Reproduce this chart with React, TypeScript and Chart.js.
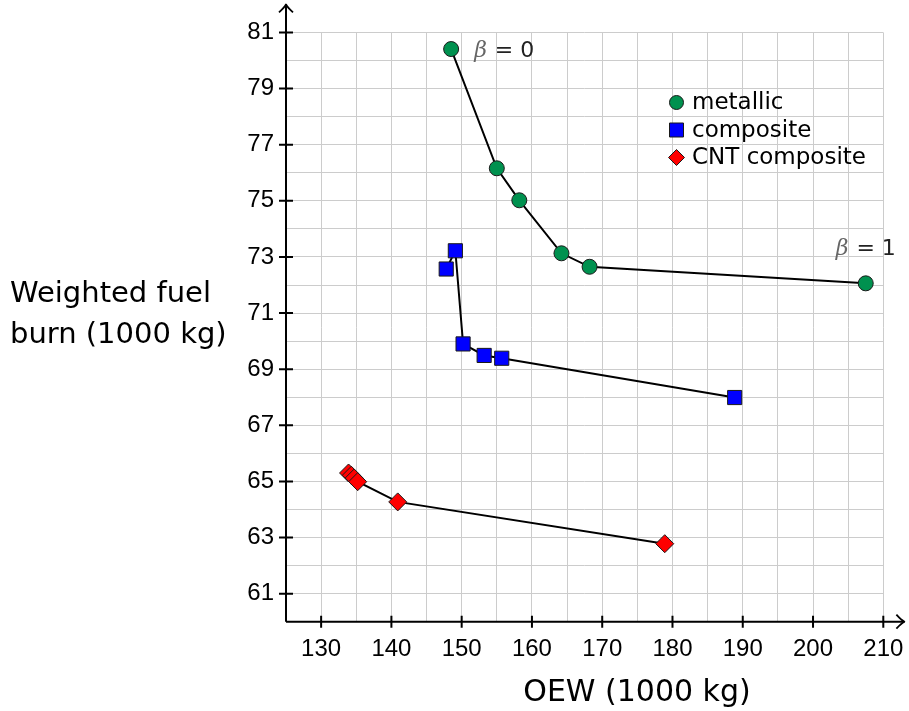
import React, { useEffect, useRef } from "react";
import { Chart, registerables } from "chart.js";

Chart.register(...registerables);

// ---- data ----
const metallicX = [148.5, 155.0, 158.2, 164.2, 168.2, 207.5];
const metallicY = [80.41, 76.16, 75.02, 73.13, 72.65, 72.06];
const compositeX = [147.8, 149.1, 150.2, 153.2, 155.7, 188.85];
const compositeY = [72.57, 73.22, 69.9, 69.49, 69.39, 67.99];
const cntX = [133.9, 134.3, 134.7, 135.2, 140.9, 178.9];
const cntY = [65.3, 65.22, 65.12, 64.99, 64.27, 62.78];

const seriesLabels = ["metallic", "composite", "CNT composite"];
const xLabeledTicks = [130, 140, 150, 160, 170, 180, 190, 200, 210];
const yLabeledTicks = [61, 63, 65, 67, 69, 71, 73, 75, 77, 79, 81];
const xTitle = "OEW (1000 kg)";
const yTitleLines = ["Weighted fuel", "burn (1000 kg)"];
const betaLabels = [
  { text: "0", x: 148.5, y: 80.41 },
  { text: "1", x: 207.5, y: 72.06 },
];

const GREEN = "#00914f";
const BLUE = "#0000ff";
const RED = "#ff0000";
const EDGE = "#1a1a1a";

function toPts(xs: number[], ys: number[]) {
  return xs.map((x, i) => ({ x, y: ys[i] }));
}

const overlayPlugin = {
  id: "overlay",
  afterDraw(chart: any) {
    const ctx = chart.ctx as CanvasRenderingContext2D;
    const xs = chart.scales.x;
    const ys = chart.scales.y;
    const x0 = xs.getPixelForValue(125);
    const y0 = ys.getPixelForValue(60);
    const xEnd = xs.getPixelForValue(213);
    const yEnd = ys.getPixelForValue(82);
    ctx.save();
    ctx.strokeStyle = "#000";
    ctx.lineWidth = 2;
    ctx.lineCap = "butt";
    // axes
    ctx.beginPath();
    ctx.moveTo(x0, y0);
    ctx.lineTo(xEnd, y0);
    ctx.moveTo(x0, y0);
    ctx.lineTo(x0, yEnd);
    ctx.stroke();
    // arrow heads
    ctx.lineWidth = 1.8;
    ctx.lineJoin = "round";
    ctx.beginPath();
    ctx.moveTo(xEnd - 8, y0 - 7);
    ctx.quadraticCurveTo(xEnd - 3, y0 - 1.5, xEnd, y0);
    ctx.quadraticCurveTo(xEnd - 3, y0 + 1.5, xEnd - 8, y0 + 7);
    ctx.moveTo(x0 - 7, yEnd + 8);
    ctx.quadraticCurveTo(x0 - 1.5, yEnd + 3, x0, yEnd);
    ctx.quadraticCurveTo(x0 + 1.5, yEnd + 3, x0 + 7, yEnd + 8);
    ctx.stroke();
    // ticks
    ctx.lineWidth = 2;
    ctx.beginPath();
    for (const v of xLabeledTicks) {
      const px = xs.getPixelForValue(v);
      ctx.moveTo(px, y0 - 6);
      ctx.lineTo(px, y0 + 6);
    }
    for (const v of yLabeledTicks) {
      const py = ys.getPixelForValue(v);
      ctx.moveTo(x0 - 7, py);
      ctx.lineTo(x0 + 7, py);
    }
    ctx.stroke();

    // axis titles
    ctx.fillStyle = "#000";
    ctx.textBaseline = "alphabetic";
    ctx.textAlign = "center";
    ctx.font = "30px 'DejaVu Sans'";
    ctx.fillText(xTitle, 637, 701);
    ctx.textAlign = "left";
    ctx.font = "29px 'DejaVu Sans'";
    ctx.fillText(yTitleLines[0], 10, 302);
    ctx.fillText(yTitleLines[1], 10, 343);

    // beta labels
    betaLabels.forEach((b, i) => {
      const px = xs.getPixelForValue(b.x);
      const py = ys.getPixelForValue(b.y);
      const bx = i === 0 ? px + 23 : px - 30;
      const by = i === 0 ? py + 8 : py - 28;
      ctx.textAlign = "left";
      ctx.fillStyle = "#666";
      ctx.font = "italic 22px 'DejaVu Serif'";
      ctx.fillText("\u03b2", bx, by);
      const w = ctx.measureText("\u03b2").width;
      ctx.fillStyle = "#222";
      ctx.font = "22px 'DejaVu Sans'";
      ctx.fillText(" = " + b.text, bx + w + 1, by);
    });

    // legend
    const datasets = chart.data.datasets;
    const lx = 676.5;
    const rows = [102.5, 130, 157.5];
    datasets.forEach((ds: any, i: number) => {
      const cy = rows[i];
      ctx.fillStyle = ds.pointBackgroundColor;
      ctx.strokeStyle = EDGE;
      ctx.lineWidth = 1;
      ctx.beginPath();
      if (ds.pointStyle === "circle") {
        ctx.arc(lx, cy, 7, 0, Math.PI * 2);
      } else if (ds.pointStyle === "rect") {
        ctx.rect(lx - 7, cy - 7, 14, 14);
      } else {
        ctx.moveTo(lx, cy - 8);
        ctx.lineTo(lx + 8, cy);
        ctx.lineTo(lx, cy + 8);
        ctx.lineTo(lx - 8, cy);
        ctx.closePath();
      }
      ctx.fill();
      ctx.stroke();
      ctx.fillStyle = "#000";
      ctx.font = "23px 'DejaVu Sans'";
      ctx.textAlign = "left";
      ctx.textBaseline = "middle";
      ctx.fillText(ds.label, 692, cy + 1);
    });
    ctx.restore();
  },
};

export default function App() {
  const ref = useRef<HTMLCanvasElement | null>(null);
  useEffect(() => {
    if (!ref.current) return;
    const common = {
      showLine: true,
      borderColor: "#000",
      borderWidth: 2,
      pointBorderColor: EDGE,
      pointBorderWidth: 1,
      tension: 0,
    };
    const chart = new Chart(ref.current, {
      type: "scatter",
      data: {
        datasets: [
          {
            ...common,
            label: seriesLabels[0],
            data: toPts(metallicX, metallicY),
            pointStyle: "circle",
            pointRadius: 7.5,
            pointBackgroundColor: GREEN,
          },
          {
            ...common,
            label: seriesLabels[1],
            data: toPts(compositeX, compositeY),
            pointStyle: "rect",
            pointRadius: 10,
            pointBackgroundColor: BLUE,
          },
          {
            ...common,
            label: seriesLabels[2],
            data: toPts(cntX, cntY),
            pointStyle: "rectRot",
            pointRadius: 9,
            pointBackgroundColor: RED,
          },
        ] as any,
      },
      options: {
        animation: false,
        responsive: false,
        devicePixelRatio: 1,
        layout: { padding: { left: 0, top: 32.5, right: 25.7, bottom: 0 } },
        plugins: {
          legend: { display: false },
          tooltip: { enabled: false },
          title: { display: false },
        },
        scales: {
          x: {
            type: "linear",
            min: 125,
            max: 210,
            afterFit: (s: any) => {
              s.height = 711 - 621.7;
              s.paddingLeft = 0;
              s.paddingRight = 0;
            },
            grid: { color: "#cccccc", lineWidth: 1, drawTicks: false },
            border: { display: false },
            ticks: {
              stepSize: 5,
              padding: 13,
              color: "#000",
              font: { family: "'Liberation Sans'", size: 24 },
              maxRotation: 0,
              autoSkip: false,
              callback: (v: any) => (xLabeledTicks.includes(Number(v)) ? String(v) : ""),
            },
          },
          y: {
            type: "linear",
            min: 60,
            max: 81,
            afterFit: (s: any) => {
              s.width = 286;
              s.paddingTop = 0;
              s.paddingBottom = 0;
            },
            grid: { color: "#cccccc", lineWidth: 1, drawTicks: false },
            border: { display: false },
            ticks: {
              stepSize: 1,
              padding: 12,
              color: "#000",
              font: { family: "'Liberation Sans'", size: 24 },
              autoSkip: false,
              callback: (v: any) => (yLabeledTicks.includes(Number(v)) ? String(v) : ""),
            },
          },
        },
      } as any,
      plugins: [overlayPlugin],
    });
    return () => chart.destroy();
  }, []);
  return (
    <div style={{ position: "fixed", left: 0, top: 0, width: 909, height: 711, background: "#fff" }}>
      <canvas ref={ref} width={909} height={711} style={{ width: 909, height: 711, display: "block" }} />
    </div>
  );
}
